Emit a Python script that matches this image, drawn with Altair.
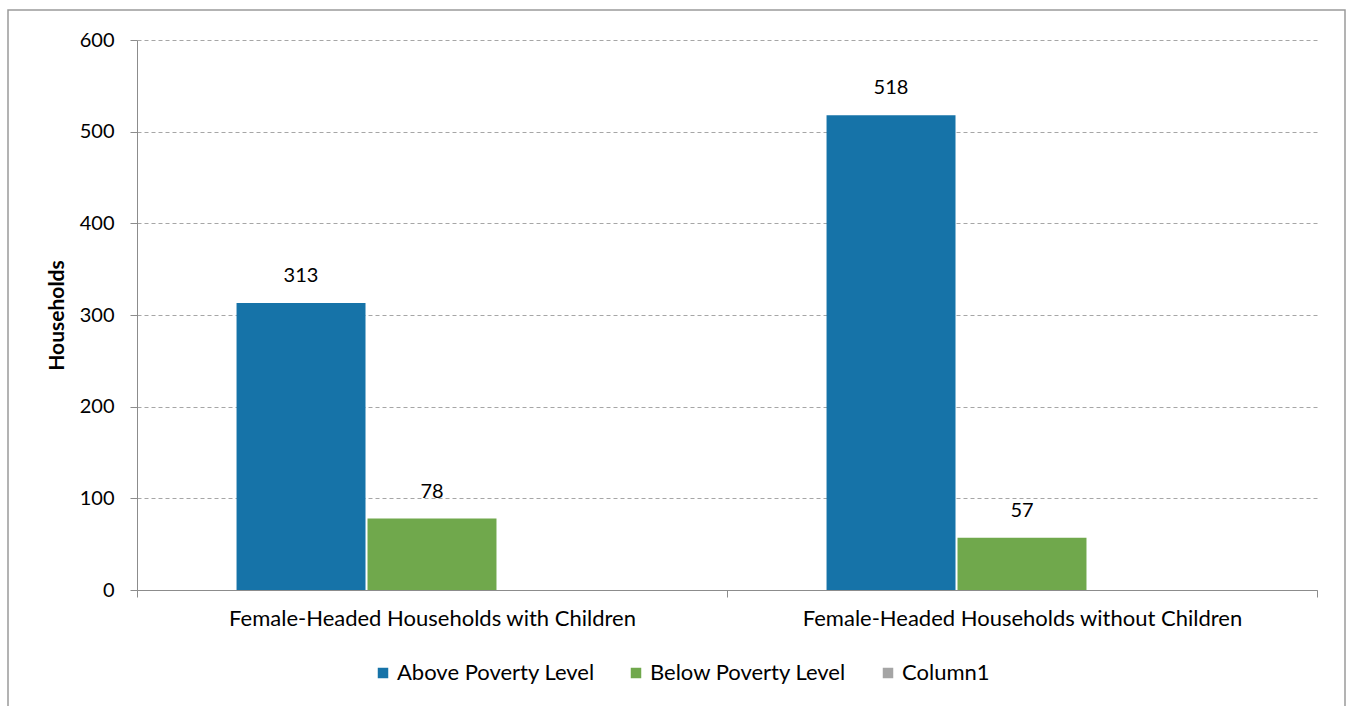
import altair as alt
import pandas as pd

categories = ["Female-Headed Households with Children", "Female-Headed Households without Children"]
series = ["Above Poverty Level", "Below Poverty Level", "Column1"]
above = [313, 518]
below = [78, 57]
colors = ["#1673A8", "#70A84C", "#A5A5A5"]
y_ticks = [0, 100, 200, 300, 400, 500, 600]

rows = []
for c, a, b in zip(categories, above, below):
    rows.append({"cat": c, "series": series[0], "value": a})
    rows.append({"cat": c, "series": series[1], "value": b})
df = pd.DataFrame(rows)

FONT = "Lato"
FS = 20
FT = 22

x = alt.X("cat:N", sort=categories, title=None,
          scale=alt.Scale(paddingInner=0, paddingOuter=0),
          axis=alt.Axis(labelAngle=0, labelFontSize=FT, labelColor="#000000",
                        labelPadding=11, tickBand="extent", tickSize=7, labelLimit=0,
                        tickColor="#8C8C8C", domainColor="#8C8C8C", grid=False,
                        labelFont=FONT))
xoff = alt.XOffset("series:N", sort=series,
                   scale=alt.Scale(domain=series, paddingInner=0.0153, paddingOuter=0.76))
y = alt.Y("value:Q", title="Households",
          scale=alt.Scale(domain=[0, 600], nice=False),
          axis=alt.Axis(values=y_ticks, labelFontSize=FS, labelColor="#000000",
                        labelPadding=16, tickSize=7, tickColor="#8C8C8C",
                        domainColor="#8C8C8C", gridColor="#A6A6A6", gridDash=[4, 3],
                        titleFontSize=21, titleFontWeight="bold", titleColor="#000000",
                        titlePadding=12, labelFont=FONT, titleFont=FONT))
color = alt.Color("series:N", sort=series,
                  scale=alt.Scale(domain=series, range=colors),
                  legend=alt.Legend(title=None, orient="none", direction="horizontal",
                                    legendX=235, legendY=622, symbolType="square",
                                    symbolSize=110, symbolStrokeWidth=0, labelFontSize=FT,
                                    labelColor="#000000", columnPadding=30, labelOffset=3,
                                    labelLimit=0, labelFont=FONT))

bars = alt.Chart(df).mark_bar().encode(x=x, xOffset=xoff, y=y, color=color)
labels = alt.Chart(df).mark_text(dy=-27, fontSize=FS, color="#000000", font=FONT).encode(
    x=x, xOffset=xoff, y=y, text="value:Q")

border = alt.Chart(pd.DataFrame({"a": [0]})).mark_rect(
    fill=None, stroke="#9A9A9A", strokeWidth=1.5).encode(
    x=alt.value(-129), x2=alt.value(1208), y=alt.value(-30), y2=alt.value(720))

chart = alt.layer(border, bars, labels).properties(
    width=1180, height=550,
    padding={"left": 137, "top": 40, "right": 29, "bottom": 116},
    autosize=alt.AutoSizeParams(type="none"),
    background="#FFFFFF",
).configure_view(stroke=None).configure_axis(gridWidth=1)

chart.save("out.html", embed_options={"renderer": "svg", "actions": False})
